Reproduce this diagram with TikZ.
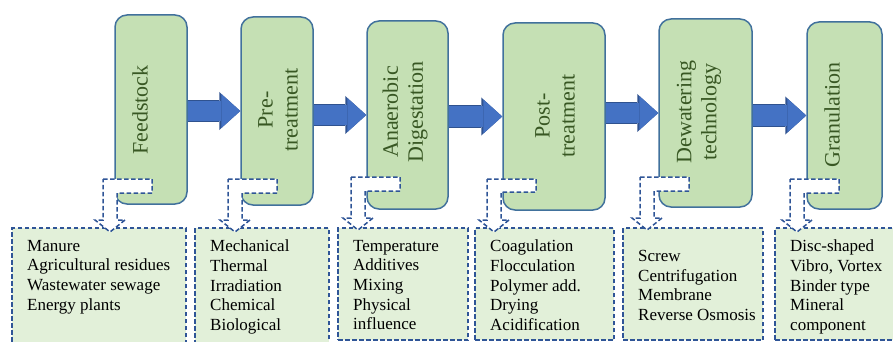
\documentclass[tikz,border=0pt]{standalone}
\usepackage{fontspec}
\setmainfont{Liberation Serif}
\usetikzlibrary{arrows.meta}
\definecolor{boxgreen}{RGB}{197,224,180}
\definecolor{boxedge}{RGB}{65,113,156}
\definecolor{textgreen}{RGB}{56,87,35}
\definecolor{listgreen}{RGB}{226,240,217}
\definecolor{dashblue}{RGB}{47,85,151}
\definecolor{arrowblue}{RGB}{68,114,196}
\definecolor{arrowedge}{RGB}{47,82,143}

\begin{document}
\begin{tikzpicture}[x=1pt, y=-1pt,
    stage/.style={draw=boxedge, fill=boxgreen, line width=1.5pt,
      rounded corners=12pt, inner sep=0pt},
    stagetext/.style={rotate=90, align=center, inner sep=0pt,
      text=textgreen, font=\fontsize{22}{25}\selectfont},
    listbox/.style={draw=dashblue, fill=listgreen, line width=1.5pt,
      dash pattern=on 4.5pt off 2.5pt, inner sep=0pt},
    listtext/.style={anchor=north west, align=left, inner sep=0pt,
      font=\fontsize{17}{19.6}\selectfont},
    bentarrow/.style={draw=dashblue, fill=white, line width=1.5pt,
      dash pattern=on 4.5pt off 2.5pt},
    fatarrow/.style={draw=arrowblue, line width=20pt,
      -{Triangle[length=19pt,width=34pt,line width=0pt]},
      preaction={draw=arrowedge, line width=22pt,
        -{Triangle[length=21pt,width=38pt,line width=0pt]}}}
  ]
  \useasboundingbox (0,0) rectangle (893,342);

  \node[stage, minimum width=72pt, minimum height=189pt] (feed) at (151,109.5) {};
  \node[stage, minimum width=72pt, minimum height=188pt] (pre) at (277,111) {};
  \node[stage, minimum width=81pt, minimum height=188pt] (ana) at (407.5,115) {};
  \node[stage, minimum width=102pt, minimum height=187pt] (post) at (554,116.5) {};
  \node[stage, minimum width=93pt, minimum height=188pt] (dew) at (705.5,113) {};
  \node[stage, minimum width=75pt, minimum height=187pt] (gran) at (844.5,115.5) {};

  \node[stagetext] (feedt) at (140,110) {Feedstock};
  \node[stagetext] (pret) at (278,110) {Pre-\\treatment};
  \node[stagetext] (anat) at (405,112) {Anaerobic\\Digestation};
  \node[stagetext] (postt) at (555,116) {Post-\\treatment};
  \node[stagetext] (dewt) at (699,112) {Dewatering\\technology};
  \node[stagetext] (grant) at (832,115) {Granulation};

  \draw[fatarrow] (feed.east |- pre.west) -- (pre.west);
  \draw[fatarrow] (pre.east |- ana.west) -- (ana.west);
  \draw[fatarrow] (ana.east |- post.west) -- (post.west);
  \draw[fatarrow] (post.east |- dew.west) -- (dew.west);
  \draw[fatarrow] (dew.east |- gran.west) -- (gran.west);

  \node[listbox, minimum width=174pt, minimum height=117pt] (feedl) at (99,286.5) {};
  \node[listbox, minimum width=134pt, minimum height=117pt] (prel) at (262,286.5) {};
  \node[listbox, minimum width=130pt, minimum height=112pt] (anal) at (403,284) {};
  \node[listbox, minimum width=139pt, minimum height=112pt] (postl) at (544.5,284) {};
  \node[listbox, minimum width=140pt, minimum height=112pt] (dewl) at (693,284) {};
  \node[listbox, minimum width=125pt, minimum height=112pt] (granl) at (837.5,284) {};

  \draw[bentarrow] (103,179) -- ++(49,0) -- ++(0,14) -- ++(-35,0) -- ++(0,27) -- ++(8,0) -- ++(-15,12) -- ++(-15,-12) -- ++(8,0) -- cycle;
  \draw[bentarrow] (228,179) -- ++(49,0) -- ++(0,14) -- ++(-35,0) -- ++(0,27) -- ++(8,0) -- ++(-15,12) -- ++(-15,-12) -- ++(8,0) -- cycle;
  \draw[bentarrow] (351,177) -- ++(49,0) -- ++(0,14) -- ++(-35,0) -- ++(0,27) -- ++(8,0) -- ++(-15,12) -- ++(-15,-12) -- ++(8,0) -- cycle;
  \draw[bentarrow] (487,179) -- ++(49,0) -- ++(0,13) -- ++(-35,0) -- ++(0,28) -- ++(8,0) -- ++(-15,12) -- ++(-15,-12) -- ++(8,0) -- cycle;
  \draw[bentarrow] (640,177) -- ++(49,0) -- ++(0,14) -- ++(-35,0) -- ++(0,27) -- ++(8,0) -- ++(-15,12) -- ++(-15,-12) -- ++(8,0) -- cycle;
  \draw[bentarrow] (790,179) -- ++(49,0) -- ++(0,14) -- ++(-35,0) -- ++(0,27) -- ++(8,0) -- ++(-15,12) -- ++(-15,-12) -- ++(8,0) -- cycle;

  \node[listtext] (feedi) at (27,240) {Manure\\Agricultural residues\\Wastewater sewage\\Energy plants};
  \node[listtext] (prei) at (210,240) {Mechanical\\Thermal\\Irradiation\\Chemical\\Biological};
  \node[listtext] (anai) at (353,240) {Temperature\\Additives\\Mixing\\Physical\\influence};
  \node[listtext] (posti) at (490,240) {Coagulation\\Flocculation\\Polymer add.\\Drying\\Acidification};
  \node[listtext] (dewi) at (638,250) {Screw\\Centrifugation\\Membrane\\Reverse Osmosis};
  \node[listtext] (grani) at (790,240) {Disc-shaped\\Vibro, Vortex\\Binder type\\Mineral\\component};
\end{tikzpicture}
\end{document}
